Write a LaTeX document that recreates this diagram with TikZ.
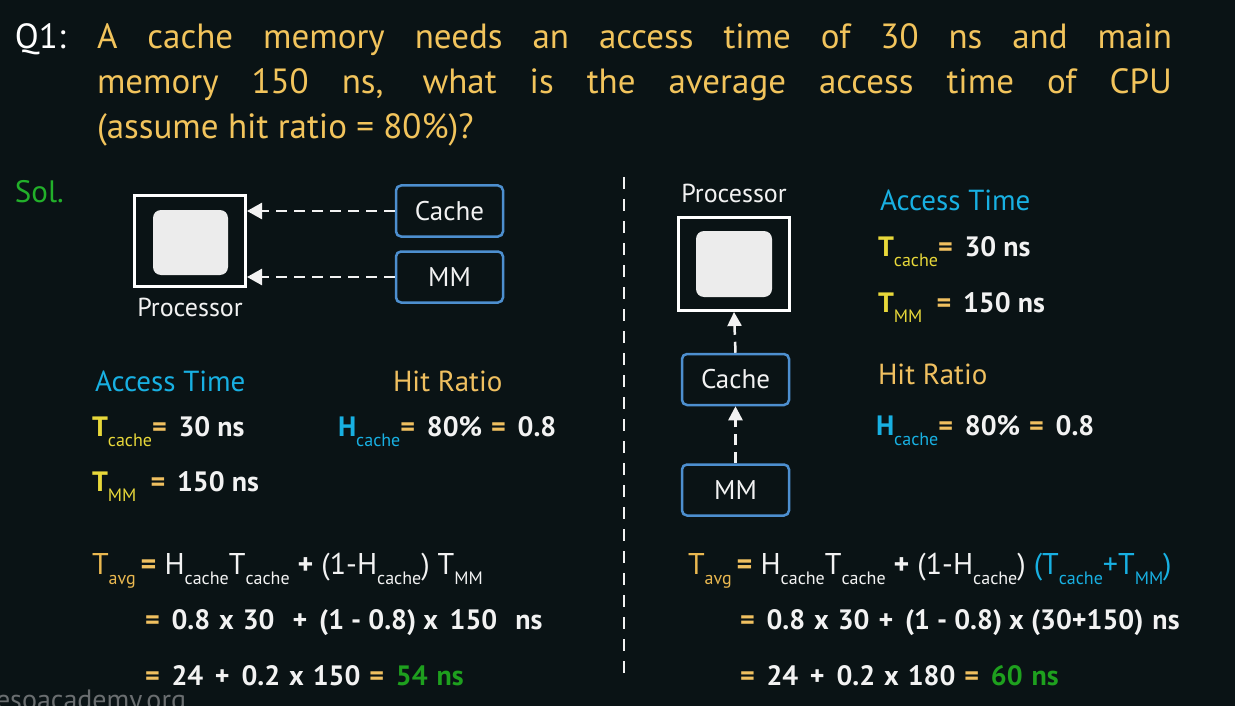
\documentclass[tikz,border=0pt]{standalone}
\usepackage{fontspec}
\setmainfont{PT Sans}
\usetikzlibrary{arrows.meta}
\definecolor{bg}{HTML}{0A1315}
\definecolor{titlecol}{HTML}{F2C45C}
\definecolor{solgreen}{HTML}{22B02A}
\definecolor{cyanc}{HTML}{18B0E2}
\definecolor{goldc}{HTML}{F0C060}
\definecolor{tyellow}{HTML}{E8D83A}
\definecolor{tgold}{HTML}{EAB850}
\definecolor{ansgreen}{HTML}{1EA01E}
\definecolor{boxblue}{HTML}{4D8FCF}
\definecolor{lightw}{HTML}{F2F2F2}
\definecolor{chipfill}{HTML}{ECECEC}
\definecolor{wmgray}{HTML}{6A6E70}
\newcommand\lowsub[1]{\raisebox{-10pt}{\fontsize{18}{18}\selectfont\mdseries #1}}
\newcommand\gapsp{\hspace{9pt}}
\begin{document}
\begin{tikzpicture}[x=1pt,y=-1pt,
  txt/.style={anchor=base west, inner sep=0pt, outer sep=0pt},
  proc/.style={draw=white, line width=3pt, minimum width=111pt, minimum height=91pt, inner sep=0pt},
  chip/.style={fill=chipfill, rounded corners=8pt, minimum width=75pt, minimum height=65pt, inner sep=0pt},
  membox/.style={draw=boxblue, line width=2.5pt, rounded corners=5pt, minimum width=107pt, minimum height=51pt, inner sep=0pt, text=lightw, font=\fontsize{27}{30}\selectfont},
  dasharrow/.style={draw=lightw, line width=2.5pt, dash pattern=on 11pt off 7pt, -{Triangle[length=15pt,width=16pt,fill=lightw]}},
  divider/.style={draw=lightw, line width=2.5pt, dash pattern=on 12pt off 10pt},
  heading/.style={txt, font=\fontsize{29}{32}\selectfont},
  defn/.style={txt, font=\fontsize{28}{32}\selectfont\bfseries, text=lightw},
  formula/.style={txt, font=\fontsize{30}{34}\selectfont, text=lightw},
  calc/.style={txt, font=\fontsize{28}{32}\selectfont\bfseries, text=lightw}
]
\fill[bg] (0,0) rectangle (1235,706);
\useasboundingbox (0,0) rectangle (1235,706);

% title
\node[txt, text=white, font=\fontsize{35}{40}\selectfont] (q) at (15,49) {Q1:};
\node[txt, text=titlecol, font=\fontsize{35}{40}\selectfont] (t1) at (97,49) {\makebox[1075pt][s]{A cache memory needs an access time of 30 ns and main}};
\node[txt, text=titlecol, font=\fontsize{35}{40}\selectfont] (t2) at (97,94) {\makebox[1075pt][s]{memory 150 ns, what is the average access time of CPU}};
\node[txt, text=titlecol, font=\fontsize{35}{40}\selectfont] (t3) at (97,139) {(assume hit ratio = 80\%)?};

\node[txt, text=solgreen, font=\fontsize{31}{34}\selectfont] (sol) at (15,202) {Sol.};

% left diagram
\node[proc] (p1) at (190,241) {};
\node[chip] (c1) at (190.5,242.5) {};
\node[anchor=base, inner sep=0pt, text=lightw, font=\fontsize{26}{30}\selectfont] (pl1) at (190,316) {Processor};
\node[membox] (ca1) at (449.5,211) {Cache};
\node[membox] (mm1) at (449.5,277) {MM};
\draw[dasharrow] (ca1.west) -- (ca1.west -| p1.east);
\draw[dasharrow] (mm1.west) -- (mm1.west -| p1.east);

% divider
\coordinate (d1) at (624,177);
\coordinate (d2) at (624,680);
\draw[divider] (d1) -- (d2);

% left texts
\node[heading, text=cyanc] (at1) at (95,391) {Access Time};
\node[heading, text=goldc] (hr1) at (393,391) {Hit Ratio};
\node[defn] (tc1) at (92,436) {{\color{tyellow}T\lowsub{cache}}{\color{goldc}=} \,30 ns};
\node[defn] (tm1) at (92,491) {{\color{tyellow}T\lowsub{MM}}\ \ {\color{goldc}=} \,150 ns};
\node[defn] (hc1) at (338,436) {{\color{cyanc}H\lowsub{cache}}{\color{goldc}=} \,80\%\gapsp{\color{goldc}=} \,0.8};

\node[formula] (f1a) at (92,574) {{\color{tgold}T\lowsub{avg}}\,{\color{goldc}\bfseries =} H\lowsub{cache}T\lowsub{cache} \textbf{+} (1-H\lowsub{cache}) T\lowsub{MM}};
\node[calc] (f1b) at (145,629) {{\color{goldc}=} \,0.8\gapsp x\gapsp 30\gapsp\gapsp + \,(1 - 0.8) x\, 150\gapsp\gapsp ns};
\node[calc] (f1c) at (145,685) {{\color{goldc}=} \,24\, + \,0.2\gapsp x\gapsp 150\gapsp{\color{goldc}=}\, {\color{ansgreen}54\gapsp ns}};

\node[txt, text=wmgray, font=\fontsize{28}{30}\selectfont] (wm) at (-4,709) {esoacademy.org};

% right diagram
\node[anchor=base, inner sep=0pt, text=lightw, font=\fontsize{26}{30}\selectfont] (pl2) at (734,203) {Processor};
\node[proc, minimum height=93pt] (p2) at (734,264) {};
\node[chip, minimum width=76pt, minimum height=66pt] (c2) at (734,264) {};
\node[membox] (ca2) at (735.5,379.5) {Cache};
\node[membox] (mm2) at (735.5,490) {MM};
\draw[dasharrow, -{Triangle[length=14pt,width=14pt,fill=lightw]}] (ca2.north) -- (p2.south);
\draw[dasharrow, -{Triangle[length=14pt,width=14pt,fill=lightw]}] (mm2.north) -- (ca2.south);

\node[heading, text=cyanc] (at2) at (880,211) {Access Time};
\node[defn] (tc2) at (878,256) {{\color{tyellow}T\lowsub{cache}}{\color{goldc}=} \,30 ns};
\node[defn] (tm2) at (878,312) {{\color{tyellow}T\lowsub{MM}}\ \ {\color{goldc}=} \,150 ns};
\node[heading, text=goldc] (hr2) at (878,384) {Hit Ratio};
\node[defn] (hc2) at (876,435) {{\color{cyanc}H\lowsub{cache}}{\color{goldc}=} \,80\%\gapsp{\color{goldc}=} \,0.8};

\node[formula] (f2a) at (688,574) {{\color{tgold}T\lowsub{avg}}\,{\color{goldc}\bfseries =} H\lowsub{cache}T\lowsub{cache} \textbf{+} (1-H\lowsub{cache}) {\color{cyanc}(T\lowsub{cache}+T\lowsub{MM})}};
\node[calc] (f2b) at (740,629) {{\color{goldc}=} \,0.8\gapsp x\gapsp 30\gapsp + \,(1 - 0.8) x (30+150)\gapsp ns};
\node[calc] (f2c) at (740,685) {{\color{goldc}=} \,24\, + \,0.2\gapsp x\gapsp 180\gapsp{\color{goldc}=}\, {\color{ansgreen}60\gapsp ns}};
\end{tikzpicture}
\end{document}
